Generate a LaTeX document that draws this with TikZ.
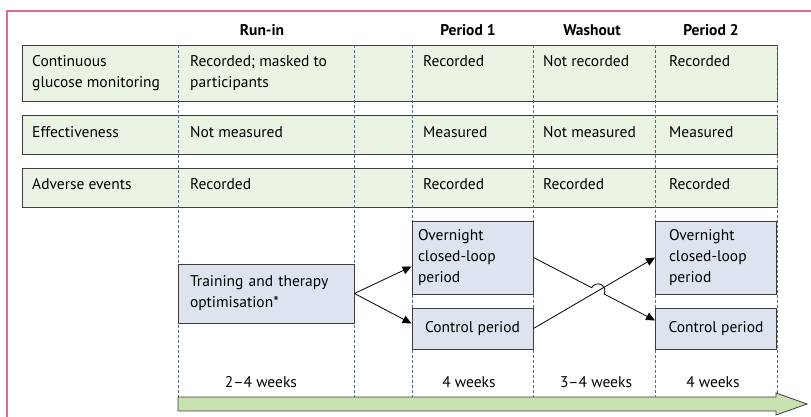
\documentclass[tikz,border=0pt]{standalone}
\usepackage{fontspec}
\setmainfont{PT Sans}
\usetikzlibrary{arrows.meta,calc}
\definecolor{framepink}{RGB}{214,112,142}
\definecolor{bandgreen}{RGB}{235,243,228}
\definecolor{boxblue}{RGB}{221,227,239}
\definecolor{arrowgreen}{RGB}{201,225,176}
\definecolor{edgegray}{RGB}{60,60,60}
\definecolor{gridblue}{RGB}{84,110,138}
\begin{document}
\begin{tikzpicture}[x=1pt,y=1pt,
    font=\fontsize{15.5}{21}\selectfont,
    band/.style={draw=edgegray,fill=bandgreen,line width=0.9pt,minimum width=755pt,minimum height=39pt,inner sep=0pt},
    armbox/.style={draw=edgegray,fill=boxblue,line width=0.9pt,inner sep=0pt,minimum width=121pt},
    cell/.style={anchor=base west,inner sep=0pt,align=left},
    head/.style={anchor=base,inner sep=0pt,font=\fontsize{15.5}{21}\selectfont\bfseries},
    span/.style={anchor=base,inner sep=0pt},
    gridline/.style={gridblue,line width=0.6pt,dash pattern=on 3pt off 2pt},
    flow/.style={-{Triangle[length=9pt,width=8pt]},line width=0.8pt}]
  \useasboundingbox (0,0) rectangle (811,417);
  % frame
  \draw[framepink,line width=1.1pt] (7,406) -- (811,406);
  \draw[framepink,line width=1.6pt] (7,0) -- (7,406.5);
  % rows
  \node[band,minimum height=56pt] (cgm) at (399.5,344) {};
  \node[band] (eff) at (399.5,282.5) {};
  \node[band] (adv) at (399.5,229.5) {};
  % period borders
  \foreach \x in {178,354,412,533,655,777}
    \draw[gridline] (\x,372) -- (\x,20);
  % headers
  \node[head] (hrun) at (262,381) {Run-in};
  \node[head] (hp1) at (468,381) {Period 1};
  \node[head] (hwash) at (592,381) {Washout};
  \node[head] (hp2) at (711,381) {Period 2};
  % row labels and cells (two-line cells sit on their last baseline)
  \node[cell] (lcgm) at (32,329.5) {Continuous\\glucose monitoring};
  \node[cell] (cgm0) at (190,329.5) {Recorded; masked to\\participants};
  \node[cell] (cgm1) at (423,350.5) {Recorded};
  \node[cell] (cgm2) at (543,350.5) {Not recorded};
  \node[cell] (cgm3) at (669,350.5) {Recorded};
  \node[cell] (leff) at (32,279) {Effectiveness};
  \node[cell] (eff0) at (190,279) {Not measured};
  \node[cell] (eff1) at (423,279) {Measured};
  \node[cell] (eff2) at (543,279) {Not measured};
  \node[cell] (eff3) at (669,279) {Measured};
  \node[cell] (ladv) at (32,227) {Adverse events};
  \node[cell] (adv0) at (190,227) {Recorded};
  \node[cell] (adv1) at (423,227) {Recorded};
  \node[cell] (adv2) at (543,227) {Recorded};
  \node[cell] (adv3) at (669,227) {Recorded};
  % arms
  \node[armbox,minimum width=176pt,minimum height=59pt,text width=152pt,align=left] (train) at (266,123.5) {Training and therapy\\optimisation*};
  \node[armbox,minimum height=73pt,text width=109pt,align=left] (loop1) at (472.5,159.5) {Overnight\\closed-loop\\period};
  \node[armbox,minimum height=41pt] (ctrl1) at (472.5,88.5) {Control period};
  \node[armbox,minimum height=73pt,text width=94pt,align=left] (loop2) at (716,159.5) {Overnight\\closed-loop\\period};
  \node[armbox,minimum height=41pt] (ctrl2) at (716,88.5) {Control period};
  % durations
  \node[span] (d0) at (261,29) {2--4 weeks};
  \node[span] (d1) at (469,29) {4 weeks};
  \node[span] (d2) at (596,29) {3--4 weeks};
  \node[span] (d3) at (713,29) {4 weeks};
  % time arrow
  \draw[edgegray,fill=arrowgreen,line width=0.8pt] (178,20) -- (776,20) -- (776,24) -- (807,13)
    -- (776,2) -- (776,6) -- (178,6) -- cycle;
  % randomisation and crossover
  \begin{scope}[flow]
    \draw (train.east) -- ([yshift=-9pt]loop1.west);
    \draw (train.east) -- ([yshift=5pt]ctrl1.west);
    \draw (ctrl1.east) -- (loop2.west);
    \coordinate (hop) at ($(loop1.east)!0.53!([yshift=8pt]ctrl2.west)$);
    \draw (loop1.east) -- ($(hop)!7pt!(loop1.east)$)
      arc[start angle=153,end angle=-27,radius=7pt] -- ([yshift=8pt]ctrl2.west);
  \end{scope}
\end{tikzpicture}
\end{document}
